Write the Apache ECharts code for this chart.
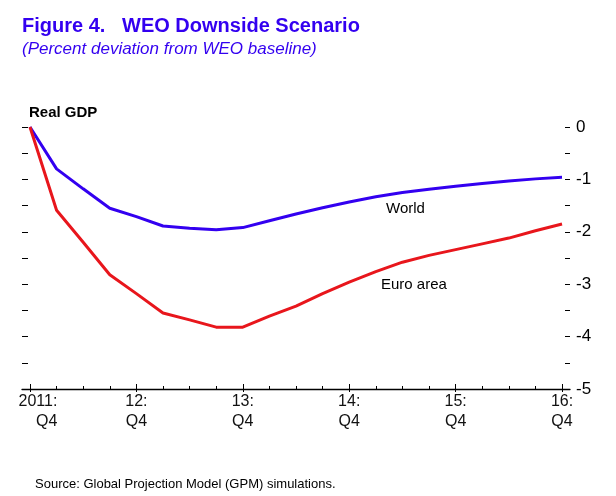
<!DOCTYPE html>
<html>
<head>
<meta charset="utf-8">
<script src="https://cdn.jsdelivr.net/npm/echarts@6/dist/echarts.min.js"></script>
<style>
html,body{margin:0;padding:0;background:#fff;}
#chart{width:616px;height:496px;}
</style>
</head>
<body>
<div id="chart"></div>
<script>
// Quarters 2011Q4 .. 2016Q4
const quarters = ['2011Q4','2012Q1','2012Q2','2012Q3','2012Q4','2013Q1','2013Q2','2013Q3','2013Q4',
  '2014Q1','2014Q2','2014Q3','2014Q4','2015Q1','2015Q2','2015Q3','2015Q4','2016Q1','2016Q2','2016Q3','2016Q4'];
const world = [0, -0.80, -1.18, -1.55, -1.71, -1.89, -1.93, -1.96, -1.92,
  -1.79, -1.66, -1.54, -1.43, -1.33, -1.25, -1.19, -1.13, -1.08, -1.03, -0.99, -0.96];
const euro = [0, -1.59, -2.20, -2.82, -3.18, -3.55, -3.68, -3.82, -3.82,
  -3.61, -3.42, -3.18, -2.96, -2.76, -2.58, -2.45, -2.34, -2.23, -2.12, -1.98, -1.85];
const yearTickIdx = [0, 4, 8, 12, 16, 20];
const yearTickLabels = ['2011:\nQ4', '12:\nQ4', '13:\nQ4', '14:\nQ4', '15:\nQ4', '16:\nQ4'];
const quarterTickIdx = [1,2,3,5,6,7,9,10,11,13,14,15,17,18,19];

const FONT = '"Liberation Sans", Arial, sans-serif';
const BLUE = '#3300f0';
const RED = '#e8161c';

const chart = echarts.init(document.getElementById('chart'), null, {renderer: 'canvas'});

function yAx(pos, len, showLabel) {
  return {
    type: 'value', position: pos, min: -5, max: 0, interval: 0.5, offset: 0,
    splitLine: {show: false},
    axisLine: {show: true, onZero: false, lineStyle: {color: 'rgba(0,0,0,0)', width: 0}},
    axisTick: {show: true, inside: true, length: len, lineStyle: {color: '#000', width: 1}},
    axisLabel: {
      show: showLabel, margin: 6, fontFamily: FONT, fontSize: 17, color: '#000',
      formatter: function (v) { return Math.abs(v - Math.round(v)) < 1e-6 ? String(Math.round(v)) : ''; }
    }
  };
}

const option = {
  animation: false,
  backgroundColor: '#fff',
  textStyle: {fontFamily: FONT},
  title: [
    {text: 'Figure 4.   WEO Downside Scenario', left: 22, top: 16, padding: 0,
     textStyle: {fontFamily: FONT, fontSize: 20, fontWeight: 'bold', color: BLUE}},
    {text: '(Percent deviation from WEO baseline)', left: 22, top: 41, padding: 0,
     textStyle: {fontFamily: FONT, fontSize: 17, fontStyle: 'italic', fontWeight: 'normal', color: BLUE}},
    {text: 'Real GDP', left: 29, top: 105, padding: 0,
     textStyle: {fontFamily: FONT, fontSize: 15, fontWeight: 'bold', color: '#000'}},
    {text: 'World', left: 386, top: 201, padding: 0,
     textStyle: {fontFamily: FONT, fontSize: 15, fontWeight: 'normal', color: '#000'}},
    {text: 'Euro area', left: 381, top: 277, padding: 0,
     textStyle: {fontFamily: FONT, fontSize: 15, fontWeight: 'normal', color: '#000'}},
    {text: 'Source: Global Projection Model (GPM) simulations.', left: 35, top: 478, padding: 0,
     textStyle: {fontFamily: FONT, fontSize: 13, fontWeight: 'normal', color: '#000'}}
  ],
  grid: {left: 22, right: 46, top: 127, bottom: 107, containLabel: false, outerBoundsMode: 'none'},
  xAxis: [
    {
      type: 'value', min: -0.3, max: 20.3,
      splitLine: {show: false},
      axisLine: {show: true, onZero: false, lineStyle: {color: '#000', width: 1.3}},
      axisTick: {show: true, inside: true, length: 5, customValues: yearTickIdx, lineStyle: {color: '#000', width: 1}},
      axisLabel: {
        show: true, margin: 3, customValues: yearTickIdx,
        fontFamily: FONT, fontSize: 16, lineHeight: 20, color: '#111',
        formatter: function (v) {
          const i = yearTickIdx.indexOf(Math.round(v));
          if (i === 0) return '{r|2011:}\n{r|Q4}';
          return i >= 0 ? yearTickLabels[i] : '';
        },
        rich: {r: {align: 'right', padding: [0, 0, 0, 16], fontFamily: FONT, fontSize: 16, lineHeight: 20, color: '#111'}}
      }
    },
    {
      type: 'value', min: -0.3, max: 20.3, position: 'bottom',
      splitLine: {show: false},
      axisLine: {show: true, onZero: false, lineStyle: {color: 'rgba(0,0,0,0)', width: 0}},
      axisTick: {show: true, inside: true, length: 3, customValues: quarterTickIdx, lineStyle: {color: '#000', width: 1}},
      axisLabel: {show: false}
    },
    {
      type: 'value', min: -0.3, max: 20.3, position: 'bottom',
      splitLine: {show: false},
      axisLine: {show: true, onZero: false, lineStyle: {color: 'rgba(0,0,0,0)', width: 0}},
      axisTick: {show: true, inside: false, length: 3, customValues: yearTickIdx, lineStyle: {color: '#000', width: 1}},
      axisLabel: {show: false}
    }
  ],
  yAxis: [yAx('right', 5, true), yAx('left', 6, false)],
  series: [
    {
      name: 'World', type: 'line', xAxisIndex: 0, yAxisIndex: 0,
      data: world.map((v, i) => [i, v]),
      showSymbol: false, symbol: 'none', smooth: false,
      lineStyle: {color: BLUE, width: 3}, z: 3
    },
    {
      name: 'Euro area', type: 'line', xAxisIndex: 0, yAxisIndex: 0,
      data: euro.map((v, i) => [i, v]),
      showSymbol: false, symbol: 'none', smooth: false,
      lineStyle: {color: RED, width: 3}, z: 4
    }
  ]
};
chart.setOption(option);
</script>
</body>
</html>
